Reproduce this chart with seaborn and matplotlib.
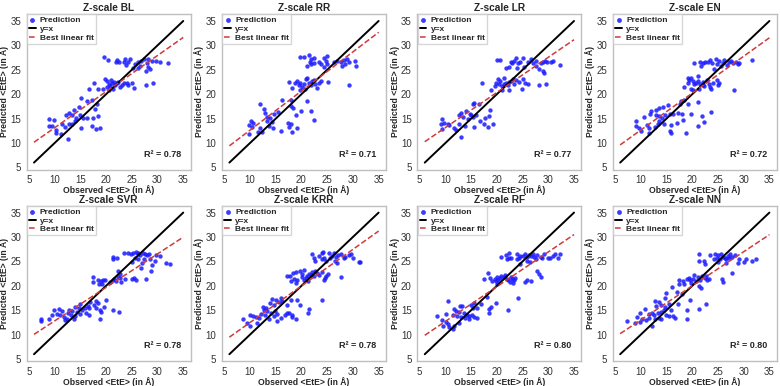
import numpy as np
import pandas as pd
import matplotlib
matplotlib.use("Agg")
import matplotlib.pyplot as plt
import seaborn as sns

# (observed, predicted) pairs
bl_points = [(19.6, 27.6), (20.3, 27.0), (22.2, 27.0), (22.6, 26.5), (22.0, 26.5), (23.4, 26.7), (23.8, 26.0),
             (24.2, 26.7), (24.7, 27.2), (23.6, 27.2), (25.6, 26.2), (26.3, 26.5), (26.8, 26.8), (27.4, 27.2),
             (26.6, 25.8), (27.9, 26.3), (28.1, 25.5), (28.5, 25.1), (27.7, 24.8), (28.9, 26.8), (29.8, 26.8),
             (30.5, 26.5), (32.0, 26.3), (25.3, 25.4), (26.3, 25.4), (28.2, 27.2), (29.2, 22.3), (27.7, 21.8),
             (17.6, 22.4), (16.7, 21.1), (18.5, 21.1), (19.5, 21.1), (19.8, 23.1), (20.2, 22.8), (20.5, 22.1),
             (20.8, 21.6), (21.1, 22.4), (21.4, 21.1), (21.8, 21.8), (22.1, 22.2), (22.4, 22.6), (22.7, 21.4),
             (23.1, 21.9), (23.4, 22.4), (24.0, 22.2), (24.3, 21.9), (25.1, 22.4), (25.5, 21.3), (20.6, 20.9),
             (21.0, 22.9), (20.2, 21.4), (21.6, 22.6),
             (15.1, 19.2), (16.3, 18.6), (17.3, 18.9), (18.2, 17.9), (17.9, 17.0), (18.4, 15.6), (14.7, 17.4),
             (13.7, 16.7), (12.9, 16.2), (12.2, 15.7), (13.4, 15.7), (14.2, 15.2), (15.0, 15.7), (15.6, 15.2),
             (16.3, 15.2), (17.4, 15.2), (13.9, 14.5), (12.9, 14.0), (8.9, 15.0), (9.9, 14.8), (8.9, 13.5),
             (9.5, 13.5), (10.2, 12.6), (10.3, 12.1), (11.2, 11.8), (12.0, 13.3), (12.6, 10.8), (15.2, 13.0),
             (17.3, 13.5), (18.0, 12.9), (18.9, 13.0), (13.4, 14.0), (11.4, 14.0)]

rr_points = [(19.8, 27.7), (20.5, 27.7), (21.4, 28.0), (21.9, 27.2), (22.4, 27.5), (21.6, 26.5), (21.0, 25.8),
             (21.8, 26.2), (22.5, 26.3), (23.4, 26.5), (23.8, 26.2), (24.3, 27.5), (24.9, 27.9), (24.7, 26.8),
             (24.3, 25.6), (25.0, 26.2), (26.3, 26.5), (26.9, 26.8), (27.6, 26.5), (28.2, 27.0), (27.9, 25.8),
             (28.5, 26.2), (29.2, 26.5), (28.9, 27.2), (30.5, 26.8), (30.6, 25.8), (29.2, 21.9),
             (17.6, 22.6), (18.2, 21.3), (18.7, 22.2), (19.2, 22.8), (19.5, 21.8), (19.8, 22.4), (20.2, 21.4),
             (20.5, 22.1), (20.8, 23.1), (21.1, 23.3), (21.4, 22.4), (21.8, 21.9), (22.1, 22.8), (22.4, 23.0),
             (22.7, 22.1), (23.1, 21.3), (23.4, 22.4), (23.8, 22.8), (25.1, 22.6), (19.7, 20.9), (20.6, 21.1),
             (16.3, 18.9), (17.9, 18.9), (18.0, 17.5), (18.4, 17.2), (21.1, 18.6), (12.0, 17.9), (12.7, 17.0),
             (12.9, 16.2), (13.4, 15.4), (13.3, 14.5), (13.9, 15.2), (14.2, 14.3), (14.7, 16.0), (15.4, 16.4),
             (13.7, 13.5), (14.4, 13.0), (10.2, 14.5), (10.5, 14.1), (9.8, 13.7), (10.3, 13.3), (9.8, 11.8),
             (12.0, 13.0), (11.6, 12.3), (12.4, 12.3), (16.0, 12.5), (17.3, 14.1), (17.6, 13.2), (18.0, 13.9),
             (18.2, 12.3), (19.1, 13.0), (18.9, 15.7), (20.0, 16.6), (21.9, 16.6), (22.4, 14.8)]

lr_points = [(20.0, 27.0), (20.7, 27.0), (22.7, 26.7), (22.9, 26.3), (23.4, 26.9), (23.8, 27.4), (24.5, 26.7),
             (25.0, 27.5), (24.2, 26.3), (22.4, 25.5), (21.8, 25.4), (24.0, 25.4), (26.0, 26.7), (26.6, 27.2),
             (27.1, 26.3), (27.6, 26.9), (27.7, 25.8), (28.1, 25.1), (28.5, 26.3), (28.9, 26.7), (29.4, 26.8),
             (29.8, 26.5), (30.5, 26.7), (30.9, 26.9), (32.2, 26.0), (28.9, 24.7), (29.2, 24.3), (25.3, 25.6),
             (28.2, 21.8), (29.6, 22.1),
             (17.1, 22.4), (18.9, 20.9), (19.7, 21.6), (19.8, 22.4), (20.2, 23.1), (20.5, 22.1), (20.6, 22.8),
             (21.0, 21.6), (21.3, 23.3), (21.4, 22.1), (21.8, 22.4), (22.1, 21.8), (22.4, 22.6), (22.7, 22.8),
             (23.1, 23.1), (23.4, 22.1), (23.8, 22.9), (24.3, 22.6), (25.0, 23.1), (25.5, 22.2), (26.0, 22.1),
             (24.9, 21.1), (22.4, 20.9), (21.1, 20.9),
             (15.3, 17.9), (15.6, 18.2), (16.6, 17.9), (18.7, 16.8), (13.1, 16.2), (14.0, 16.6), (14.7, 16.0),
             (15.0, 15.7), (12.7, 15.7), (13.4, 15.4), (14.4, 15.0), (15.3, 15.4), (16.0, 15.7), (9.3, 15.0),
             (9.8, 14.1), (9.2, 14.0), (10.5, 14.0), (10.8, 13.7), (11.6, 13.0), (12.0, 12.6), (9.4, 12.8),
             (12.7, 13.9), (13.9, 13.5), (15.6, 13.3), (16.7, 14.5), (17.8, 15.2), (18.4, 15.5), (18.2, 13.3),
             (19.3, 14.0), (17.6, 13.9), (13.1, 11.2)]

en_points = [(20.4, 26.4), (21.6, 26.5), (22.0, 26.3), (21.7, 25.8), (22.4, 26.5), (23.4, 27.0), (23.8, 26.3),
             (24.6, 27.3), (24.3, 25.1), (24.9, 26.2), (25.3, 26.8), (25.6, 25.8), (25.9, 26.3), (26.2, 27.0),
             (26.7, 26.0), (27.2, 26.5), (27.5, 26.8), (28.0, 26.3), (28.5, 26.7), (28.8, 26.2), (29.1, 26.3),
             (31.6, 27.0), (23.0, 26.5), (28.2, 20.8),
             (19.1, 23.3), (19.4, 22.9), (19.8, 23.3), (20.1, 22.8), (19.1, 22.4), (20.4, 22.1), (20.7, 22.4),
             (21.2, 23.8), (21.1, 22.8), (21.5, 22.1), (22.0, 22.6), (22.3, 21.6), (22.8, 22.9), (23.2, 22.0),
             (23.4, 21.4), (24.0, 22.4), (24.9, 22.9), (25.1, 21.8), (25.3, 22.2), (23.6, 21.1), (18.5, 21.4),
             (19.8, 21.1), (20.1, 20.8), (21.4, 21.1), (22.0, 21.8),
             (18.5, 18.9), (17.8, 18.7), (19.1, 17.9), (21.2, 18.4), (17.6, 17.9), (15.3, 17.7), (14.4, 17.4),
             (13.6, 17.2), (13.0, 16.7), (12.0, 16.6), (11.8, 16.0), (12.9, 15.7), (13.5, 15.5), (14.2, 15.2),
             (14.8, 15.7), (15.6, 16.0), (16.2, 16.0), (17.2, 16.2), (18.0, 16.0), (19.8, 16.0), (18.2, 14.7),
             (17.0, 14.1), (15.9, 13.7), (14.6, 13.9), (10.7, 15.3), (9.1, 14.5), (9.0, 13.5), (9.6, 13.0),
             (11.2, 13.7), (11.7, 13.0), (12.7, 13.3), (13.3, 13.9), (10.1, 12.5), (11.6, 12.1), (15.6, 12.5),
             (15.9, 12.1), (18.7, 12.1), (21.2, 13.5), (21.9, 15.5), (22.3, 14.3), (23.6, 16.4), (13.5, 14.5)]

svr_points = [(21.3, 26.0), (21.3, 25.5), (22.1, 25.7), (23.4, 26.8), (24.3, 26.8), (24.9, 26.5), (25.3, 26.8),
              (25.8, 27.0), (26.2, 26.5), (25.6, 25.8), (26.3, 26.8), (26.6, 26.3), (27.1, 26.7), (27.6, 26.5),
              (27.9, 26.3), (28.3, 26.5), (28.5, 25.5), (27.4, 25.4), (26.9, 24.7), (26.8, 23.6), (25.0, 24.9),
              (26.2, 25.5), (28.9, 24.3), (28.7, 23.1), (29.6, 25.1), (29.8, 26.3), (30.5, 26.2), (31.6, 24.7),
              (32.4, 24.5), (25.0, 21.3), (25.5, 21.6), (25.8, 21.1), (27.7, 21.4),
              (17.4, 21.8), (17.4, 20.8), (18.5, 21.1), (18.7, 20.4), (19.1, 20.9), (19.5, 21.1), (19.8, 21.1),
              (19.3, 20.4), (20.8, 20.8), (21.3, 21.1), (21.6, 21.4), (21.9, 20.9), (22.4, 23.1), (22.7, 22.4),
              (22.7, 21.6), (23.6, 21.3), (22.9, 20.8), (22.3, 21.8),
              (18.0, 16.8), (18.4, 16.4), (20.0, 17.2), (17.6, 16.0), (16.9, 16.6), (16.5, 15.9), (16.6, 15.4),
              (16.0, 15.4), (16.1, 14.5), (16.7, 14.1), (18.0, 15.4), (18.9, 15.0), (19.1, 14.7), (19.7, 15.7),
              (18.9, 13.2), (21.3, 15.0), (22.6, 14.7), (15.0, 16.2), (14.7, 15.4), (15.3, 15.0), (14.3, 14.7),
              (15.0, 14.3), (13.9, 15.7), (13.4, 14.8), (12.9, 15.0), (12.6, 14.5), (13.1, 14.0), (14.0, 13.9),
              (11.4, 14.8), (10.9, 15.2), (11.1, 14.1), (11.8, 13.7), (12.1, 13.0), (13.7, 13.3), (12.4, 13.3),
              (9.8, 15.0), (9.5, 14.0), (8.9, 13.3), (10.5, 14.3), (7.3, 13.2), (7.3, 12.8)]

krr_points = [(22.1, 26.5), (22.4, 25.8), (22.6, 25.1), (23.5, 26.2), (24.0, 26.7), (24.3, 25.8), (23.9, 25.4),
              (24.1, 27.0), (25.3, 26.7), (25.6, 25.8), (26.0, 26.2), (26.3, 26.8), (26.7, 26.0), (26.6, 25.1),
              (26.9, 24.7), (27.2, 26.3), (27.6, 26.5), (28.2, 25.8), (28.5, 26.0), (29.2, 26.3), (29.7, 26.5),
              (30.0, 25.8), (31.1, 24.9), (31.4, 24.9), (24.8, 25.1),
              (17.2, 22.0), (17.7, 22.0), (18.3, 22.6), (18.9, 22.8), (18.5, 21.4), (17.9, 20.9), (18.9, 20.6),
              (19.2, 21.1), (19.8, 23.1), (20.2, 22.4), (20.2, 21.8), (20.5, 21.1), (20.8, 21.6), (21.1, 22.1),
              (21.4, 22.4), (21.8, 22.2), (22.1, 22.8), (22.4, 22.0), (22.7, 23.1), (23.1, 22.6), (23.5, 22.2),
              (24.0, 22.8), (24.7, 22.1), (25.2, 22.4), (24.5, 21.6), (24.3, 21.1), (21.3, 20.9), (27.6, 21.8),
              (20.5, 23.3),
              (19.2, 17.2), (17.9, 17.0), (16.0, 17.5), (15.0, 17.0), (14.2, 17.4), (23.9, 17.0), (13.8, 16.4),
              (14.7, 16.0), (15.6, 16.6), (16.3, 16.8), (17.2, 16.0), (12.5, 15.7), (13.1, 15.4), (12.7, 15.0),
              (13.4, 14.8), (14.0, 14.5), (14.9, 14.8), (15.3, 14.3), (16.8, 14.1), (17.6, 14.5), (18.2, 14.1),
              (18.1, 13.7), (18.9, 13.3), (17.1, 14.5), (16.0, 13.5), (14.7, 13.9), (13.7, 13.3), (12.9, 14.0),
              (12.1, 14.3), (11.8, 13.5), (11.2, 13.7), (10.5, 13.9), (10.1, 14.1), (8.7, 13.2), (9.5, 12.3),
              (10.0, 11.8), (11.4, 12.3), (15.3, 12.8), (19.8, 16.0), (21.4, 15.2), (21.3, 14.5)]

rf_points = [(20.9, 26.0), (21.7, 26.3), (22.0, 25.4), (22.3, 26.8), (22.3, 25.6), (22.8, 25.8), (23.9, 26.5),
             (24.3, 25.8), (24.6, 26.2), (25.1, 26.2), (25.4, 26.5), (25.8, 26.0), (26.2, 26.3), (26.7, 26.2),
             (27.1, 26.5), (27.3, 26.0), (27.7, 25.5), (27.8, 26.3), (28.5, 26.0), (28.8, 25.6), (29.1, 26.5),
             (29.9, 25.6), (30.3, 25.6), (30.9, 26.2), (31.4, 26.5), (31.8, 25.6), (32.3, 26.5), (23.9, 25.4),
             (24.6, 24.5), (25.9, 25.1), (26.5, 24.8), (27.9, 23.1), (28.2, 22.4), (26.7, 20.9), (28.5, 21.8),
             (25.8, 21.1), (25.4, 20.8),
             (18.3, 22.6), (17.6, 21.4), (18.7, 21.6), (19.1, 20.9), (19.6, 21.4), (19.8, 20.9), (20.1, 21.8),
             (20.2, 21.1), (20.6, 21.6), (20.9, 22.1), (21.3, 21.9), (21.5, 22.2), (21.9, 21.4), (22.2, 21.1),
             (22.7, 21.9), (23.0, 21.4), (23.4, 21.1), (23.6, 21.6), (22.5, 20.8), (23.2, 20.6), (20.0, 20.4),
             (24.1, 17.5), (18.0, 17.7),
             (16.9, 16.2), (16.2, 15.5), (15.4, 15.4), (14.9, 16.0), (15.6, 16.4), (19.8, 16.4), (18.9, 15.7),
             (18.5, 15.2), (18.5, 14.5), (22.2, 15.0), (10.5, 16.9), (11.6, 15.2), (12.9, 15.9), (13.3, 15.9),
             (12.0, 14.8), (12.7, 14.7), (13.6, 14.5), (14.2, 14.1), (14.6, 13.9), (15.1, 14.1), (15.6, 13.7),
             (16.1, 13.5), (14.6, 13.2), (13.8, 13.5), (13.0, 13.7), (12.2, 13.9), (11.4, 14.1), (10.1, 14.3),
             (8.3, 13.9), (9.3, 13.0), (10.1, 12.6), (10.5, 12.1), (9.6, 11.8), (10.7, 11.6), (11.6, 11.8),
             (12.7, 12.3), (11.4, 11.2)]

nn_points = [(21.4, 26.5), (21.4, 25.1), (22.2, 25.1), (22.5, 24.5), (23.5, 26.3), (24.2, 25.4), (24.5, 26.5),
             (24.8, 25.8), (25.1, 26.3), (25.4, 25.5), (25.6, 26.5), (25.9, 26.0), (26.3, 25.8), (26.5, 25.4),
             (26.9, 26.2), (27.2, 25.6), (27.4, 26.5), (26.5, 24.7), (27.7, 26.0), (28.3, 26.3), (28.9, 24.7),
             (29.0, 25.5), (30.0, 24.8), (30.4, 25.5), (31.6, 25.1), (32.3, 25.4), (27.7, 22.6), (25.1, 24.8),
             (25.8, 21.4), (25.9, 20.8),
             (17.4, 21.1), (17.5, 20.4), (18.3, 20.9), (18.5, 20.4), (19.0, 21.4), (19.3, 21.6), (19.6, 21.1),
             (19.8, 20.6), (20.1, 21.4), (20.3, 22.2), (20.7, 20.9), (21.1, 21.9), (21.6, 21.1), (21.9, 22.1),
             (22.4, 21.6), (22.9, 21.1), (23.3, 21.4), (22.7, 22.0), (21.3, 19.9), (21.8, 19.5), (16.1, 19.7),
             (14.9, 18.6), (17.1, 18.7), (18.0, 18.4), (14.8, 17.5), (19.6, 17.2), (13.5, 16.6), (12.7, 16.8),
             (13.0, 15.9), (14.0, 16.0), (14.7, 15.7), (15.4, 16.2), (15.9, 15.0), (17.2, 16.2), (10.9, 15.2),
             (11.7, 14.3), (12.1, 14.5), (12.5, 14.0), (13.4, 14.5), (14.0, 14.7), (14.5, 15.0), (14.9, 14.1),
             (15.4, 13.9), (16.2, 13.9), (16.6, 13.5), (14.0, 13.3), (13.5, 13.5), (12.7, 13.2), (11.7, 13.5),
             (11.0, 13.0), (9.8, 14.5), (9.3, 13.7), (8.9, 12.3), (9.9, 12.5), (7.4, 12.8), (10.3, 13.3),
             (12.2, 11.8), (19.0, 15.0), (19.0, 13.3), (21.4, 15.2), (22.7, 16.2)]

model_names = ["BL", "RR", "LR", "EN", "SVR", "KRR", "RF", "NN"]
r2_values = ["0.78", "0.71", "0.77", "0.72", "0.78", "0.78", "0.80", "0.80"]
all_points = [bl_points, rr_points, lr_points, en_points,
              svr_points, krr_points, rf_points, nn_points]
line_range = np.array([6.0, 35.0])

sns.set_style("white", {"axes.edgecolor": "0.75"})
plt.rcParams['font.family'] = ['Liberation Sans', 'DejaVu Sans']

fig, axes = plt.subplots(2, 4, figsize=(7.8, 3.86), dpi=100)
fig.subplots_adjust(left=0.034, right=0.996, bottom=0.064, top=0.964,
                    wspace=0.19, hspace=0.23)

for ax, name, pts, r2 in zip(axes.flat, model_names, all_points, r2_values):
    df = pd.DataFrame(pts, columns=["observed", "predicted"])
    sns.scatterplot(data=df, x="observed", y="predicted", ax=ax, color="#1a1aff",
                    s=10, linewidth=0, alpha=0.85, label="Prediction")
    sns.lineplot(x=line_range, y=line_range, ax=ax, color="black", lw=1.4, label="y=x")
    slope, icpt = np.polyfit(df["observed"], df["predicted"], 1)
    sns.lineplot(x=line_range, y=slope * line_range + icpt, ax=ax, color="#cf3a3a",
                 lw=1.1, linestyle="--", label="Best linear fit")

    ax.set_xticks([5, 10, 15, 20, 25, 30, 35])
    ax.set_yticks([5, 10, 15, 20, 25, 30, 35])
    ax.tick_params(labelsize=7.0, pad=0.5, labelcolor="0.2")
    ax.set_xlabel("Observed <EtE> (in Å)", fontsize=6.2, fontweight="bold", labelpad=0)
    ax.set_ylabel("Predicted <EtE> (in Å)", fontsize=6.2, fontweight="bold", labelpad=1)
    ax.set_title("Z-scale " + name, fontsize=7.3, fontweight="bold", pad=2)
    ax.text(0.94, 0.1, "R² = " + r2, transform=ax.transAxes, ha="right", va="center",
            fontsize=6.5, fontweight="bold")
    ax.legend(loc="upper left", prop={"weight": "bold", "size": 6.0}, handlelength=0.8,
              borderaxespad=0.05, borderpad=0.25, labelspacing=0.1, handletextpad=0.5,
              frameon=True, fancybox=False, edgecolor="0.8", markerscale=1.1)
    for sp in ax.spines.values():
        sp.set_linewidth(1.0)

fig.savefig("out.png", dpi=100)
